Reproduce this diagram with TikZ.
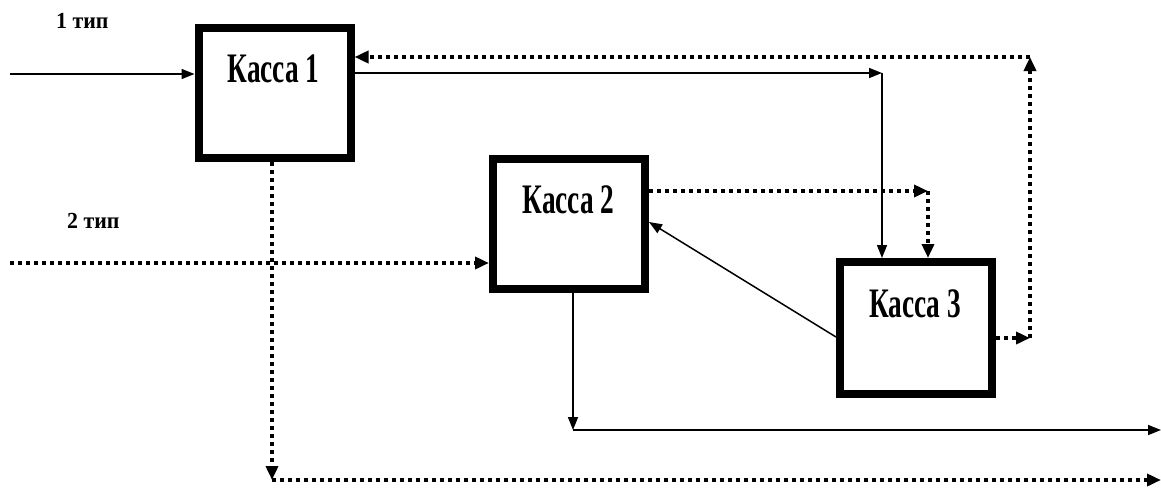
\documentclass[tikz,border=0pt]{standalone}
\usepackage{fontspec}
\usepackage{graphicx}
\setmainfont{Liberation Serif}
\usetikzlibrary{arrows.meta}

\tikzset{
  kassa/.style={draw, line width=8pt, rectangle, inner sep=0pt,
    minimum width=152pt},
  title/.style={anchor=base, inner sep=0pt,
    font=\fontsize{42}{44}\selectfont\bfseries},
  flowlabel/.style={anchor=base west, inner sep=0pt,
    font=\fontsize{23}{25}\selectfont\bfseries},
  sarr/.style={line width=1.5pt, -{Triangle[length=13pt,width=10pt]}},
  darr/.style={line width=3.5pt, dash pattern=on 4pt off 4pt,
    -{Triangle[length=14pt,width=12pt]}}
}

\begin{document}
\begin{tikzpicture}[x=1pt, y=-1pt]
  \useasboundingbox (0,0) rectangle (1161,488);

  % the three cash desks
  \node[kassa, minimum height=130.5pt] (k1) at (274.5,92.75) {};
  \node[kassa, minimum height=130pt]   (k2) at (569,224) {};
  \node[kassa, minimum height=132pt]   (k3) at (916,328) {};

  \node[title] (k1t) at (273.5,82) {\scalebox{0.65}[1]{Касса 1}};
  \node[title] (k2t) at (568.5,213) {\scalebox{0.65}[1]{Касса 2}};
  \node[title] (k3t) at (915,317) {\scalebox{0.65}[1]{Касса 3}};

  % incoming streams
  \node[flowlabel] (t1) at (56,28) {\scalebox{0.95}[1]{1 тип}};
  \node[flowlabel] (t2) at (67,228) {\scalebox{0.95}[1]{2 тип}};

  % bend points and free ends
  \coordinate (in1) at (10,74);
  \coordinate (in2) at (10,263);
  \coordinate (a) at (882,73);
  \coordinate (b) at (928,191);
  \coordinate (c) at (1030,338);
  \coordinate (d) at (1030,57);
  \coordinate (e) at (573,430);
  \coordinate (f) at (1161,430);
  \coordinate (g) at (272,480);
  \coordinate (h) at (1161,480);

  % type 1 customers (solid)
  \draw[sarr] (in1) -- (k1.west |- in1);
  \draw[sarr] (k1.east |- a) -- (a);
  \draw[sarr] (a) -- (k3.north -| a);
  \draw[sarr] ([yshift=-9pt]k3.west) -- ([yshift=2pt]k2.east);
  \draw[sarr] (k2.south -| e) -- (e);
  \draw[sarr] (e) -- (f);

  % type 2 customers (dotted)
  \draw[darr] (in2) -- (k2.west |- in2);
  \draw[darr] (k2.east |- b) -- (b);
  \draw[darr] (b) -- (k3.north -| b);
  \draw[darr] (k3.east |- c) -- (c);
  \draw[darr] (c) -- (d);
  \draw[darr] (d) -- (k1.east |- d);
  \draw[darr] (k1.south -| g) -- (g);
  \draw[darr] (g) -- (h);
\end{tikzpicture}
\end{document}
